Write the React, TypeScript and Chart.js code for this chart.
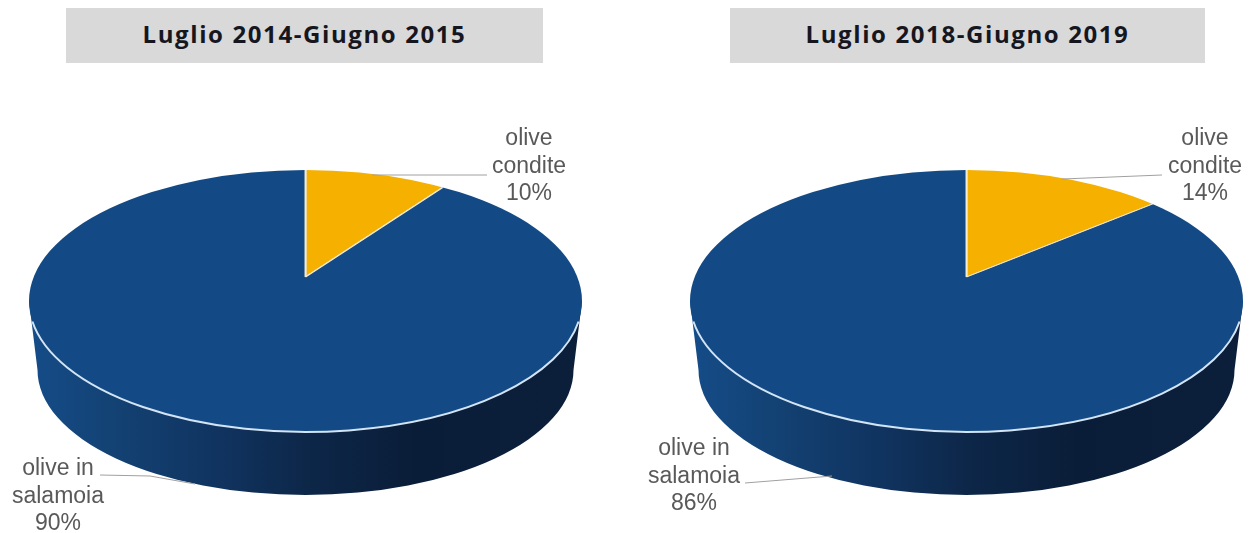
import React, { useEffect, useRef } from "react";
import { Chart, registerables } from "chart.js";

Chart.register(...registerables);

const categories = ["olive condite", "olive in salamoia"];
const titles = ["Luglio 2014-Giugno 2015", "Luglio 2018-Giugno 2019"];
const valuesLeft = [10, 90];
const valuesRight = [14, 86];

const W = 1253;
const H = 533;
const BLUE = "#134a85";
const GOLD = "#f5b000";

type Pie = {
  title: string; values: number[]; offset: number; width: number; cx: number;
  box: [number, number];
  topLabel: [number, number]; botLabel: [number, number];
  topLine: number[][]; botLine: number[][];
};

const pies: Pie[] = [
  {
    title: titles[0], values: valuesLeft, offset: 0, width: 627, cx: 305.5, box: [66, 477],
    topLabel: [529, 124], botLabel: [58, 454],
    topLine: [[487, 175], [372, 175]], botLine: [[100, 475], [150, 476], [195, 484]],
  },
  {
    title: titles[1], values: valuesRight, offset: 627, width: 626, cx: 966.5, box: [730, 475],
    topLabel: [1205, 124], botLabel: [694, 434],
    topLine: [[1162, 175], [1062, 179]], botLine: [[745, 483], [832, 476]],
  },
];

const TOP_CY = 301, TOP_RX = 276.5, TOP_RY = 131;
const BOT_CY = 370, BOT_RX = 268, BOT_RY = 125;
const APEX_Y = 277, SQUASH = 0.474, REACH = 345;

function pie3d(p: Pie) {
  return {
    id: "pie3d",
    beforeDatasetsDraw(chart: any) {
      const c: CanvasRenderingContext2D = chart.ctx;
      const cx = p.cx - p.offset;
      const g = c.createLinearGradient(cx - TOP_RX, 0, cx + TOP_RX, 0);
      g.addColorStop(0, "#154c88");
      g.addColorStop(0.15, "#134274");
      g.addColorStop(0.35, "#10335f");
      g.addColorStop(0.5, "#0d2749");
      g.addColorStop(0.7, "#0a1d38");
      g.addColorStop(1, "#0b1f3b");
      c.save();
      c.fillStyle = g;
      c.beginPath();
      c.moveTo(cx - TOP_RX, TOP_CY);
      c.lineTo(cx - BOT_RX, BOT_CY);
      c.ellipse(cx, BOT_CY, BOT_RX, BOT_RY, 0, Math.PI, 0, true);
      c.lineTo(cx + TOP_RX, TOP_CY);
      c.closePath();
      c.fill();
      c.restore();

      const el = chart.getDatasetMeta(0).data[0];
      const k = REACH / el.outerRadius;
      c.save();
      c.beginPath();
      c.ellipse(cx, TOP_CY, TOP_RX, TOP_RY, 0, 0, Math.PI * 2);
      c.clip();
      c.translate(cx, APEX_Y);
      c.scale(k, k * SQUASH);
      c.translate(-el.x, -el.y);
    },
    afterDatasetsDraw(chart: any) {
      const c: CanvasRenderingContext2D = chart.ctx;
      const cx = p.cx - p.offset;
      c.restore();
      c.save();
      c.strokeStyle = "#d3e4f5";
      c.lineWidth = 2;
      c.beginPath();
      c.ellipse(cx, TOP_CY, TOP_RX, TOP_RY, 0, Math.PI * 0.95, Math.PI * 0.05, true);
      c.stroke();
      c.strokeStyle = "#a0a0a0";
      c.lineWidth = 1;
      for (const line of [p.topLine, p.botLine]) {
        c.beginPath();
        line.forEach(([x, y], i) => (i ? c.lineTo(x - p.offset, y) : c.moveTo(x - p.offset, y)));
        c.stroke();
      }
      c.restore();
    },
  };
}

function PieChart({ p }: { p: Pie }) {
  const ref = useRef<HTMLCanvasElement>(null);
  useEffect(() => {
    const chart = new Chart(ref.current!, {
      type: "pie",
      data: {
        labels: categories,
        datasets: [{
          data: p.values,
          backgroundColor: [GOLD, BLUE],
          borderColor: "#f3ead2",
          borderWidth: 1.5,
        }],
      },
      options: {
        responsive: false,
        animation: false,
        plugins: { legend: { display: false }, tooltip: { enabled: false } },
      },
      plugins: [pie3d(p)],
    } as any);
    return () => chart.destroy();
  }, [p]);
  return (
    <canvas
      ref={ref}
      width={p.width}
      height={H}
      style={{ position: "absolute", left: p.offset, top: 0, width: p.width, height: H }}
    />
  );
}

function Label({ at, lines }: { at: [number, number]; lines: string[] }) {
  return (
    <div style={{
      position: "absolute", left: at[0] - 80, top: at[1], width: 160, textAlign: "center",
      font: "23px/27.5px 'Liberation Sans', sans-serif", color: "#595959",
    }}>
      {lines.map((l) => <div key={l}>{l}</div>)}
    </div>
  );
}

export default function App() {
  return (
    <div style={{ position: "fixed", left: 0, top: 0, width: W, height: H, background: "#fff", overflow: "hidden" }}>
      {pies.map((p) => (
        <React.Fragment key={p.title}>
          <PieChart p={p} />
          <div style={{
            position: "absolute", left: p.box[0], top: 8, width: p.box[1], height: 55,
            background: "#d9d9d9", textAlign: "center", letterSpacing: "1.6px",
            font: "bold 24px/52px 'Open Sans', sans-serif", color: "#16161f",
          }}>{p.title}</div>
          <Label at={p.topLabel} lines={["olive", "condite", `${p.values[0]}%`]} />
          <Label at={p.botLabel} lines={["olive in", "salamoia", `${p.values[1]}%`]} />
        </React.Fragment>
      ))}
    </div>
  );
}
